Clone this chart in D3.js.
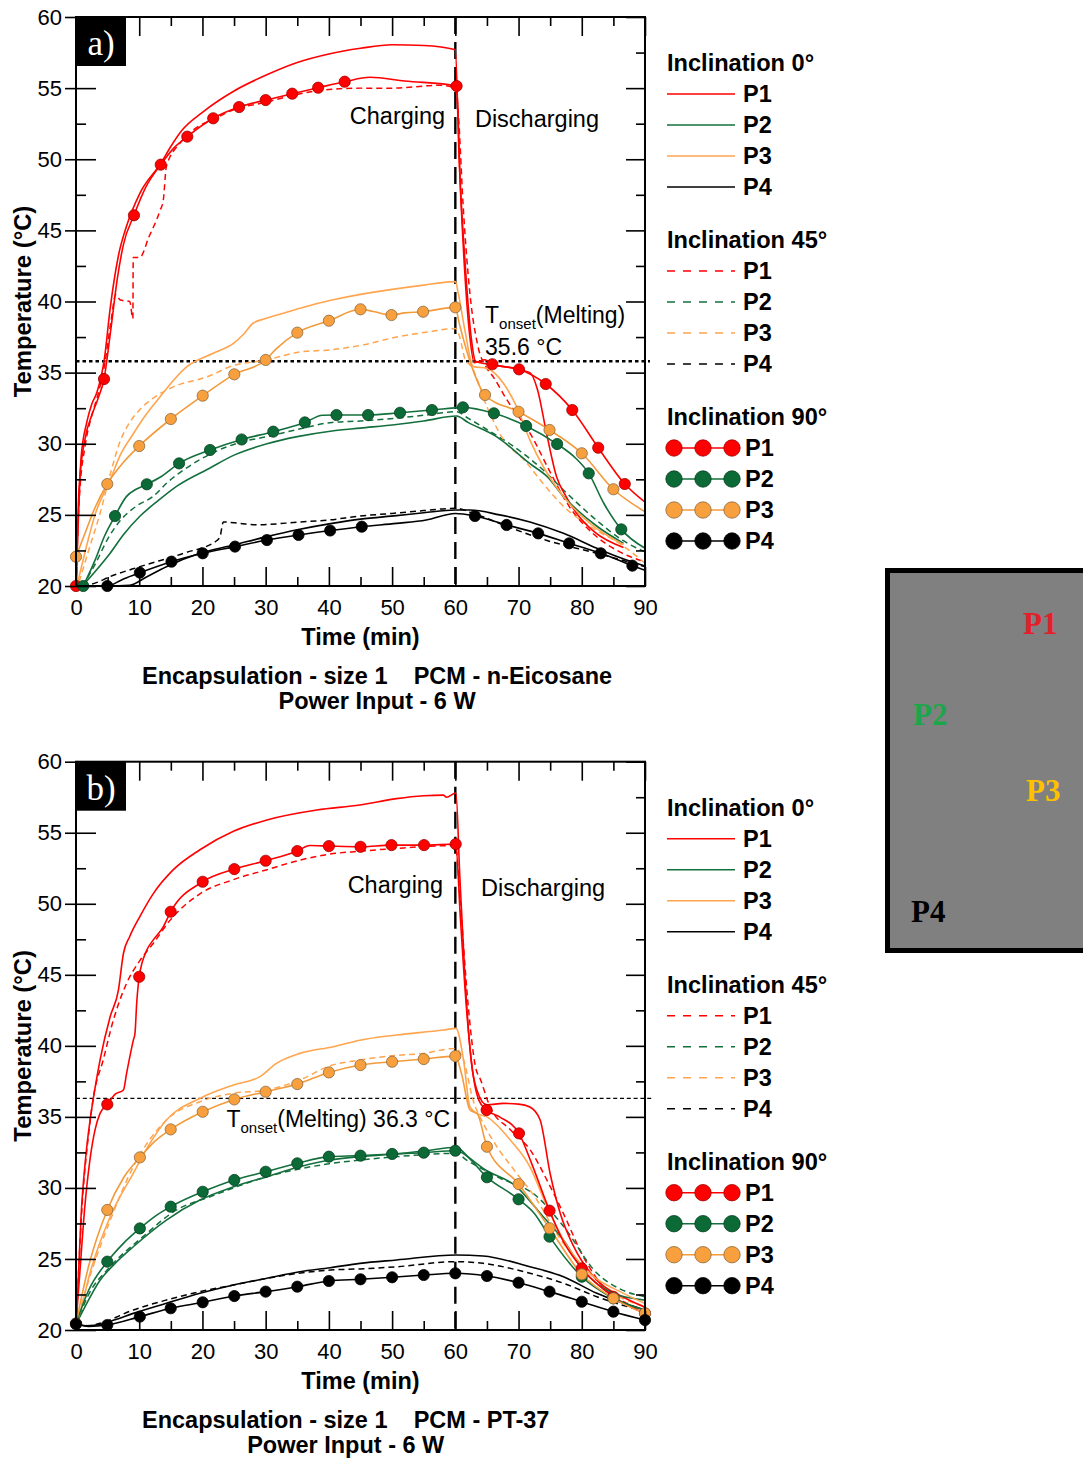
<!DOCTYPE html>
<html>
<head>
<meta charset="utf-8">
<script src="https://cdn.jsdelivr.net/npm/d3@7"></script>
<style>
  body { margin: 0; background: #fff; }
  svg { font-family: "Liberation Sans", Arial, sans-serif; }
</style>
</head>
<body>
<div id="chart"></div>
<script>
// ---------------- axis ticks ----------------
const timeTicks = [0, 10, 20, 30, 40, 50, 60, 70, 80, 90];
const timeMinor = [5, 15, 25, 35, 45, 55, 65, 75, 85];
const tempTicks = [20, 25, 30, 35, 40, 45, 50, 55, 60];
const tempMinor = [22.5, 27.5, 32.5, 37.5, 42.5, 47.5, 52.5, 57.5];
const positions = ["P1", "P2", "P3", "P4"];
const inclinations = ["Inclination 0°", "Inclination 45°", "Inclination 90°"];

// ---------------- panel a) n-Eicosane ----------------
// [time (min), temperature (°C)] ; a third value 1 = measured point drawn as a marker
const a0_P1 = [[0,20],[0.4,25],[0.8,29],[1.7,31.5],[2.5,32.8],[3.3,33.6],[4.5,36],[5.4,39.5],[6.7,43.2],[8,45.3],[10.1,47.6],[13.4,49.7],[15,50.9],[16.7,52],[20,53.3],[25,54.8],[30,55.9],[35,56.8],[40,57.4],[45,57.8],[50,58.05],[55,58.0],[60,57.7],[60.6,50],[61.5,43],[62.5,37.5],[63.2,35.8],[65,35.6],[68,35.4],[71.8,35.0],[73,33.8],[74.4,30.8],[76,27.7],[77.5,26.3],[79.2,25.1],[82,23.8],[86.6,22.7]];
const a45_P1 = [[0,20],[0.5,26],[1.5,30],[2.5,32],[3.5,33.5],[4.5,35.5],[5.5,38.5],[6.3,40.5],[7,40.1],[8.5,40],[9,38.8],[9.05,43.1],[10.1,43.1],[11.5,44.5],[13.3,46.4],[13.8,47.1],[14.3,49.5],[16.4,51.1],[19,52.2],[21.7,52.8],[25,53.5],[30,54.0],[34.3,54.5],[40,54.9],[45,55.0],[50,55.0],[57.6,55.2],[60,55],[60.5,53],[61.2,47],[62.3,40.6],[63.5,37],[65,35.3],[66,34.7],[68,33.2],[72,30.6],[75,28],[78,25.6],[82,23.6],[86,22.4],[90,21.7]];
const a90_P1 = [[0,20,1],[0.5,27],[1.5,30.5],[2.5,32],[3.5,33.2],[4.43,34.55,1],[5.5,38],[6.5,41.5],[7.5,44],[9.17,46.06,1],[11,48],[13.4,49.62,1],[15.5,50.8],[17.6,51.59,1],[21.7,52.88,1],[25.8,53.67,1],[30,54.16,1],[34.2,54.61,1],[38.3,55.03,1],[42.5,55.45,1],[46.5,55.76],[52,55.5],[60.2,55.15,1],[60.8,48],[61.5,42],[62.3,37.5],[63,35.7],[64.7,35.9],[65.85,35.59,1],[70.07,35.23,1],[74.3,34.2,1],[78.5,32.37,1],[82.6,29.72,1],[86.8,27.17,1],[90,25.9]];

const a0_P2 = [[1,20],[3,21],[5.4,22.3],[7.5,23.6],[10.1,24.9],[13,26],[15.9,27],[21.2,28.3],[25,29.2],[30.2,30.0],[35,30.5],[40.5,30.9],[45,31.1],[50.7,31.35],[55,31.6],[60.2,31.95],[62,31.5],[66.5,30.5],[71.8,28.6],[74.5,27.7],[77.1,26.3],[82.4,24.2],[86.6,23.0]];
const a45_P2 = [[1,20],[3,21.5],[5,23.3],[7,24.6],[9.5,25.6],[12.2,26.3],[14.5,27.3],[17,28.15],[22.3,29.5],[26,30.1],[30.2,30.5],[35,31.0],[40.5,31.5],[45,31.6],[50.7,31.8],[55,32.0],[60.2,32.25],[62,31.8],[65,31.0],[68.6,30.0],[73.9,28.15],[77.1,26.75],[82.4,24.6],[86.5,23.2],[90,22.4]];
const a90_P2 = [[1.15,20,1],[3,21.8],[4.5,23.5],[6.17,24.92,1],[8,26.3],[9.5,26.8],[11.2,27.15,1],[13.5,27.7],[16.3,28.62,1],[21.2,29.56,1],[26.2,30.3,1],[31.2,30.85,1],[36.2,31.5,1],[39,32.0],[41.2,32.02,1],[46.2,32.02,1],[51.25,32.18,1],[56.3,32.37,1],[61.2,32.56,1],[66.1,32.14,1],[71.2,31.25,1],[76.1,29.98,1],[79,29.0],[81.1,27.92,1],[83.5,25.8],[86.25,23.98,1],[90,22.65]];

const a0_P3 = [[0.3,20.3],[1.5,22.5],[3,25],[5.4,27.45],[7,29.2],[9.06,30.7],[11,32],[13.3,33.3],[15.5,34.5],[17.5,35.4],[21.7,36.36],[24.9,37.06],[26.5,37.7],[28,38.47],[30,38.8],[32.8,39.17],[36,39.6],[40.5,40.1],[45,40.5],[50,40.85],[55,41.15],[60,41.4],[60.5,40.5],[61.5,38],[62.85,35.42],[65,35.3],[67.6,34.25],[69.7,32.6],[71.8,30.26],[73.9,28.4],[77.1,26.3],[81.3,24.4],[86.6,22.9]];
const a45_P3 = [[0.5,20.3],[2,22.5],[3.8,25.1],[5.5,28],[7,30.2],[8.5,31.5],[10.1,32.4],[12.5,33.3],[15.4,34.0],[20.7,34.7],[24.9,35.5],[30.2,35.9],[35.4,36.45],[40.2,36.6],[45.4,36.95],[50.7,37.5],[56,37.88],[60,38.1],[60.7,37.5],[61.5,36],[62.6,35.4],[65,32.6],[67.6,30.3],[70.8,28.9],[73.9,27.2],[77.1,25.6],[81.3,24.2],[86.6,22.8],[90,21.6]];
const a90_P3 = [[0,22.06,1],[1.5,23.8],[3,25.5],[4.95,27.17,1],[7.5,28.7],[10,29.84,1],[15,31.74,1],[20.04,33.38,1],[25.04,34.88,1],[30,35.89,1],[31.5,36.6],[35,37.81,1],[40,38.65,1],[45,39.45,1],[47,39.3],[49.9,39.05,1],[52,39.2],[54.9,39.28,1],[60,39.59,1],[60.6,38.5],[61.5,37],[62.7,35.3],[64.7,33.43,1],[70,32.25,1],[74.9,30.97,1],[80,29.33,1],[85,26.8,1],[90,25.22]];

const a0_P4 = [[0,20],[5,20],[8.5,20.05],[11,20.6],[14.3,21.36],[19.6,22.3],[24.9,22.88],[30.2,23.47],[35,23.95],[40.5,24.4],[45,24.7],[50.7,24.95],[55,25.15],[60,25.34],[62.3,25.34],[67,25.0],[71.8,24.5],[77.1,23.7],[82.4,22.65],[86,22.0],[90,21.4]];
const a45_P4 = [[1,20],[3,20.2],[5.4,20.66],[10.1,21.36],[17,22.3],[22.3,23.2],[22.8,23.5],[23.3,24.5],[25.9,24.4],[28.6,24.3],[35.4,24.5],[40.2,24.65],[44.9,24.92],[50,25.1],[55,25.3],[60,25.46],[62.9,25.1],[68.1,24.2],[74.5,23.2],[82.4,22.3],[90,21.36]];
const a90_P4 = [[0,20],[4.95,20,1],[7.5,20.5],[10.1,20.94,1],[15.1,21.71,1],[20.04,22.3,1],[25.15,22.77,1],[30.2,23.23,1],[35.2,23.59,1],[40.2,23.9,1],[45.2,24.17,1],[50.7,24.4],[55.4,24.64],[60,25.1],[63.1,24.92,1],[68.1,24.29,1],[73.1,23.7,1],[78,23.0,1],[83,22.3,1],[88,21.43,1],[90,21.1]];

// ---------------- panel b) PT-37 ----------------
const b0_P1 = [[0,20.4],[0.3,23],[0.8,28],[1.5,32],[2.3,35],[3,37],[3.8,39],[5.4,42.05],[6.7,43.9],[7.5,46.5],[8.5,47.7],[10.1,49.1],[12.2,50.7],[15.4,52.4],[19.6,53.8],[24.9,55.1],[30.2,55.9],[38.1,56.6],[44.9,56.95],[50.7,57.4],[55,57.6],[58.1,57.65],[58.6,57.5],[60.1,57.8],[60.7,52],[61.5,45],[62.5,39],[63.4,36.9],[65,35.85],[67.6,35.95],[70,35.9],[71.8,35.7],[73.4,34.8],[75,31.0],[76.6,28.2],[78.7,25.9],[82.4,23.5],[86.6,22.3],[90,21.6]];
const b45_P1 = [[0,20.4],[0.4,24],[1,29],[1.8,33],[2.8,36.5],[4.3,39],[5.9,41.8],[8,44.4],[10.1,46.0],[12.2,47.2],[14.9,48.85],[19.6,50.7],[24.9,51.7],[30.2,52.4],[35.4,53.07],[40.2,53.5],[45,53.7],[50.7,53.9],[60,54.1],[60.8,50],[62,43],[63.2,38.5],[64,37.6],[65.5,35.7],[68.7,34.1],[71.8,32.7],[75,30.1],[77.1,28.2],[80.2,25.2],[83.9,22.8],[87,21.9],[90,21.4]];
const b90_P1 = [[0,20.45,1],[0.6,24],[1.4,28.7],[2.2,31.96],[3,34.07],[3.8,35.25],[4.95,35.88,1],[6.2,36.6],[7.5,36.89],[8,38.06],[9.07,40.4],[9.33,40.88],[9.6,43.0],[10,44.86,1],[11.2,46.74],[12.2,47.44],[13.8,48.38],[14.98,49.44,1],[20.04,51.55,1],[25.04,52.44,1],[30,53.03,1],[35,53.71,1],[37,54.1],[40,54.06,1],[45,54.01,1],[49.9,54.13,1],[55.05,54.13,1],[60.06,54.2,1],[60.8,49],[61.7,43],[62.8,38],[63.7,36.2],[64.95,35.48,1],[67,35],[70.07,33.84,1],[72,31.8],[74.9,28.4,1],[77,26.3],[80,24.34,1],[85,22.34,1],[90,21.17,1]];

const b0_P2 = [[0,20.4],[1.5,21.7],[3.8,23.5],[6,24.6],[9.06,25.86],[14.3,27.74],[19.6,29.15],[24.9,30.08],[30.2,30.79],[35.4,31.49],[40.2,31.96],[44.9,32.2],[50.7,32.4],[55,32.6],[60.2,32.86],[62,32.2],[64.4,31.38],[69.7,30.08],[73.9,27.97],[77.1,26.33],[80.2,24.22],[85,22.58],[90,22.1]];
const b45_P2 = [[0,20.4],[2,22.5],[5.4,24.45],[10.6,26.57],[15.9,28.45],[21.2,29.38],[30.2,30.79],[40,31.7],[44.9,31.96],[50.7,32.2],[60,32.43],[62,31.9],[66.5,30.8],[72.9,29.4],[77.1,27.3],[82.4,24.0],[86,22.9],[90,22.34]];
const b90_P2 = [[0,20.45,1],[2,22.8],[4.95,24.81,1],[7.5,26.1],[10.1,27.15,1],[12.5,28],[14.98,28.68,1],[20.04,29.73,1],[25.04,30.56,1],[30,31.14,1],[35,31.73,1],[40,32.2,1],[45,32.27,1],[50,32.39,1],[55,32.48,1],[60,32.62,1],[61,32.5],[65,30.75,1],[70,29.2,1],[72.5,28.2],[74.9,26.57,1],[80,23.75,1],[85,22.23,1],[90,21.4]];

const b0_P3 = [[0,20.4],[0.6,21.2],[2.2,24],[5.4,27.97],[9.06,31.03],[11.5,33],[14.3,34.78],[19.6,36.3],[24.9,37.24],[29.1,37.83],[31.7,38.77],[35.4,39.47],[40.7,39.94],[44.9,40.4],[50.7,40.76],[58.1,41.11],[60.1,41.23],[61.3,39],[62.3,35.72],[63.4,35.25],[65,35.0],[68.7,33.37],[71.8,31.49],[74.5,28.68],[77.1,26.33],[81.3,23.99],[86.6,22.58],[90,21.87]];
const b45_P3 = [[0,20.4],[2,23.5],[5.4,27.7],[9.06,31.49],[14.3,34.78],[19.6,36.07],[24.9,36.66],[30.2,36.89],[35.4,37.6],[40.2,38.6],[44.9,39.0],[50,39.3],[54.9,39.47],[60,39.82],[61.3,39],[62.8,36.19],[64.4,34.55],[66,33.3],[69.7,31.03],[72.9,29.15],[76,26.8],[80.2,24.45],[85,22.58],[90,21.64]];
const b90_P3 = [[0,20.45,1],[2,24.5],[4.95,28.45,1],[7.5,30.7],[10.1,32.15,1],[12.5,33.3],[14.98,34.12,1],[20.04,35.36,1],[25.04,36.23,1],[30,36.77,1],[35,37.31,1],[40,38.13,1],[45,38.65,1],[50,38.88,1],[55,39.07,1],[60,39.28,1],[61,38],[62.3,35.5],[63.5,35.2],[65,32.9,1],[70,30.27,1],[74.9,27.16,1],[80,23.92,1],[85,22.23,1],[90,21.17,1]];

const b0_P4 = [[0,20.47],[1.5,20.3],[3.3,20.35],[6,20.7],[9.06,21.17],[14.3,21.88],[19.6,22.58],[24.9,23.17],[30.2,23.64],[35.4,24.1],[40.2,24.38],[44.9,24.69],[50.7,24.93],[60.1,25.28],[64.4,25.21],[71.8,24.45],[77.1,23.75],[82.4,22.58],[90,21.4]];
const b45_P4 = [[0,20.47],[2,20.3],[3.8,20.47],[9.06,21.41],[14.3,22.11],[19.6,22.7],[24.9,23.17],[30.2,23.64],[40.2,24.22],[44.9,24.3],[50.7,24.45],[60,24.81],[64.4,24.69],[71.8,23.99],[77.1,23.29],[82.4,22.34],[90,21.29]];
const b90_P4 = [[0,20.42,1],[2,20.25],[4.95,20.35,1],[10.1,20.94,1],[14.98,21.53,1],[20.04,21.95,1],[25.04,22.39,1],[30,22.7,1],[35,23.05,1],[40,23.45,1],[45,23.57,1],[50,23.71,1],[55,23.87,1],[60,23.99,1],[65,23.8,1],[70,23.33,1],[74.9,22.7,1],[80,21.99,1],[85,21.29,1],[90,20.7,1]];

// onset temperatures and captions
const onsetA = 35.8, onsetB = 36.3;
const captionA = ["Encapsulation - size 1    PCM - n-Eicosane", "Power Input - 6 W"];
const captionB = ["Encapsulation - size 1    PCM - PT-37", "Power Input - 6 W"];

// ---------------- layout / style ----------------
const WIDTH = 1083, HEIGHT = 1459;
const LEFT = 76, RIGHT = 645;
const LINE_COL = { P1: "#ff0000", P2: "#13703d", P3: "#ffa54f", P4: "#000000" };
const MARK_FILL = { P1: "#ff0000", P2: "#0b6a36", P3: "#f8a03e", P4: "#000000" };
const MARK_STROKE = { P1: "#a00000", P2: "#06401f", P3: "#8a6a40", P4: "#000000" };
const BOLD = "bold";

const svg = d3.select("#chart").append("svg")
  .attr("width", WIDTH).attr("height", HEIGHT);

const x = d3.scaleLinear().domain([0, 90]).range([LEFT, RIGHT]);

const panels = [
  { tag: "a)", top: 17, bottom: 586, s0: [a0_P1, a0_P2, a0_P3, a0_P4], s45: [a45_P1, a45_P2, a45_P3, a45_P4],
    s90: [a90_P1, a90_P2, a90_P3, a90_P4], onset: onsetA, caption: captionA, onsetStyle: "dot" },
  { tag: "b)", top: 761.7, bottom: 1330, s0: [b0_P1, b0_P2, b0_P3, b0_P4], s45: [b45_P1, b45_P2, b45_P3, b45_P4],
    s90: [b90_P1, b90_P2, b90_P3, b90_P4], onset: onsetB, caption: captionB, onsetStyle: "dash" }
];

panels.forEach(drawPanel);

function drawPanel(p, idx) {
  const g = svg.append("g");
  const y = d3.scaleLinear().domain([20, 60]).range([p.bottom, p.top]);
  const line = d3.line().x(d => x(d[0])).y(d => y(d[1])).curve(d3.curveMonotoneX);

  // onset line
  g.append("line")
    .attr("x1", LEFT).attr("x2", p.onsetStyle === "dot" ? 650 : 652)
    .attr("y1", y(p.onset)).attr("y2", y(p.onset))
    .attr("stroke", "#000")
    .attr("stroke-width", p.onsetStyle === "dot" ? 2.6 : 1.3)
    .attr("stroke-dasharray", p.onsetStyle === "dot" ? "3.5,3" : "4,2.8");

  // charge / discharge separator at 60 min
  g.append("line")
    .attr("x1", x(60)).attr("x2", x(60))
    .attr("y1", y(60)).attr("y2", y(20))
    .attr("stroke", "#000").attr("stroke-width", 2.4)
    .attr("stroke-dasharray", "17,8");

  // series lines
  p.s45.forEach((s, i) => {
    g.append("path").attr("d", line(s)).attr("fill", "none")
      .attr("stroke", LINE_COL[positions[i]]).attr("stroke-width", 1.5)
      .attr("stroke-dasharray", "6,4");
  });
  p.s0.forEach((s, i) => {
    g.append("path").attr("d", line(s)).attr("fill", "none")
      .attr("stroke", LINE_COL[positions[i]]).attr("stroke-width", 1.6);
  });
  p.s90.forEach((s, i) => {
    const col = positions[i] === "P3" ? "#f39a3a" : LINE_COL[positions[i]];
    g.append("path").attr("d", line(s)).attr("fill", "none")
      .attr("stroke", col).attr("stroke-width", 1.6);
  });
  // markers on top
  p.s90.forEach((s, i) => {
    g.append("g").selectAll("circle")
      .data(s.filter(d => d[2] === 1))
      .join("circle")
      .attr("cx", d => x(d[0])).attr("cy", d => y(d[1]))
      .attr("r", 5.6)
      .attr("fill", MARK_FILL[positions[i]])
      .attr("stroke", MARK_STROKE[positions[i]])
      .attr("stroke-width", 0.8);
  });

  // ---- axes ----
  const fontAxis = g => g.attr("font-size", 22).attr("font-family", "Liberation Sans, Arial, sans-serif")
    .call(g => g.select(".domain").remove())
    .call(g => g.selectAll("line").attr("stroke-width", 1.6));

  g.append("g").attr("transform", `translate(0,${p.bottom})`)
    .call(d3.axisBottom(x).tickValues(timeTicks).tickSize(-19).tickPadding(13)).call(fontAxis);
  g.append("g").attr("transform", `translate(0,${p.bottom})`)
    .call(d3.axisBottom(x).tickValues(timeMinor).tickSize(-9).tickFormat("")).call(fontAxis);
  g.append("g").attr("transform", `translate(0,${p.top})`)
    .call(d3.axisTop(x).tickValues(timeTicks).tickSize(-19).tickFormat("")).call(fontAxis);
  g.append("g").attr("transform", `translate(0,${p.top})`)
    .call(d3.axisTop(x).tickValues(timeMinor).tickSize(-9).tickFormat("")).call(fontAxis);

  g.append("g").attr("transform", `translate(${LEFT},0)`)
    .call(d3.axisLeft(y).tickValues(tempTicks).tickSize(11).tickPadding(3)).call(fontAxis);
  g.append("g").attr("transform", `translate(${LEFT},0)`)
    .call(d3.axisLeft(y).tickValues(tempTicks).tickSize(-20).tickFormat("")).call(fontAxis);
  g.append("g").attr("transform", `translate(${LEFT},0)`)
    .call(d3.axisLeft(y).tickValues(tempMinor).tickSize(-10).tickFormat("")).call(fontAxis);
  g.append("g").attr("transform", `translate(${RIGHT},0)`)
    .call(d3.axisRight(y).tickValues(tempTicks).tickSize(-19).tickFormat("")).call(fontAxis);
  g.append("g").attr("transform", `translate(${RIGHT},0)`)
    .call(d3.axisRight(y).tickValues(tempMinor).tickSize(-9).tickFormat("")).call(fontAxis);

  g.append("rect")
    .attr("x", LEFT).attr("y", p.top)
    .attr("width", RIGHT - LEFT).attr("height", p.bottom - p.top)
    .attr("fill", "none").attr("stroke", "#000").attr("stroke-width", 2);

  // panel tag
  g.append("rect").attr("x", LEFT).attr("y", p.top).attr("width", 50).attr("height", 49).attr("fill", "#000");
  g.append("text").attr("x", LEFT + 25).attr("y", p.top + 38)
    .attr("text-anchor", "middle").attr("fill", "#fff")
    .attr("font-family", "Liberation Serif, Times New Roman, serif").attr("font-size", 35)
    .text(p.tag);

  // annotations
  const chY = idx === 0 ? [52.48, 52.27] : [50.75, 50.54];
  const chX = idx === 0 ? [58.4, 63.1] : [58.05, 64.06];
  g.append("text").attr("x", x(chX[0])).attr("y", y(chY[0])).attr("text-anchor", "end")
    .attr("font-size", 23.5).text("Charging");
  g.append("text").attr("x", x(chX[1])).attr("y", y(chY[1]))
    .attr("font-size", 23.5).text("Discharging");

  const onsetLabel = (t, T) => {
    const tx = g.append("text").attr("x", x(t)).attr("y", y(T)).attr("font-size", 23).style("white-space", "pre");
    tx.append("tspan").text("T");
    tx.append("tspan").attr("font-size", 15).attr("dy", 6).text("onset");
    tx.append("tspan").attr("dy", -6).text("(Melting)");
    return tx;
  };
  if (idx === 0) {
    onsetLabel(64.7, 38.49);
    g.append("text").attr("x", x(64.7)).attr("y", y(36.24)).attr("font-size", 23).text("35.6 °C");
  } else {
    onsetLabel(23.8, 34.29).append("tspan").text(" 36.3 °C");
  }

  // axis titles
  g.append("text")
    .attr("transform", `translate(23,${(p.top + p.bottom) / 2}) rotate(-90)`)
    .attr("text-anchor", "middle").attr("dy", "0.35em")
    .attr("font-weight", BOLD).attr("font-size", 23.8)
    .text("Temperature (°C)");
  g.append("text").attr("x", (LEFT + RIGHT) / 2).attr("y", p.bottom + 59)
    .attr("text-anchor", "middle").attr("font-weight", BOLD).attr("font-size", 23.5)
    .text("Time (min)");

  const cap1 = g.append("text").attr("x", 142).attr("y", p.bottom + 98)
    .attr("font-weight", BOLD).attr("font-size", 23.5).style("white-space", "pre")
    .text(p.caption[0]);
  const w1 = cap1.node().getComputedTextLength();
  g.append("text").attr("x", 142 + w1 / 2).attr("y", p.bottom + 123)
    .attr("text-anchor", "middle").attr("font-weight", BOLD).attr("font-size", 23.5)
    .text(p.caption[1]);

  // ---- legend ----
  const lg = g.append("g").attr("transform", `translate(0,${p.top})`);
  inclinations.forEach((title, k) => {
    const base = 177 * k;
    lg.append("text").attr("x", 667).attr("y", base + 54)
      .attr("font-weight", BOLD).attr("font-size", 23.6).text(title);
    positions.forEach((pos, i) => {
      const ly = base + 77 + 31 * i;
      if (k < 2) {
        lg.append("line").attr("x1", 667).attr("x2", 735).attr("y1", ly).attr("y2", ly)
          .attr("stroke", LINE_COL[pos]).attr("stroke-width", 1.6)
          .attr("stroke-dasharray", k === 1 ? "8,8" : null);
      } else {
        lg.append("line").attr("x1", 674).attr("x2", 732).attr("y1", ly).attr("y2", ly)
          .attr("stroke", pos === "P3" ? "#f39a3a" : LINE_COL[pos]).attr("stroke-width", 1.6);
        lg.selectAll(null).data([674, 703, 732]).join("circle")
          .attr("cx", d => d).attr("cy", ly).attr("r", 8.2)
          .attr("fill", MARK_FILL[pos]).attr("stroke", MARK_STROKE[pos]).attr("stroke-width", 0.8);
      }
      lg.append("text").attr("x", k < 2 ? 743 : 745).attr("y", ly).attr("dy", "0.36em")
        .attr("font-weight", BOLD).attr("font-size", 23.5).text(pos);
    });
  });
}

// ---- sensor position sketch (right) ----
const sketch = svg.append("g");
sketch.append("rect").attr("x", 887.5).attr("y", 570.5).attr("width", 260).attr("height", 380)
  .attr("fill", "#808080").attr("stroke", "#000").attr("stroke-width", 5);
const sketchLabels = [
  { t: "P1", x: 1023, y: 634, c: "#e3202a" },
  { t: "P2", x: 913, y: 725, c: "#1ca64a" },
  { t: "P3", x: 1026, y: 801, c: "#ffc000" },
  { t: "P4", x: 911, y: 922, c: "#000000" }
];
sketch.selectAll("text").data(sketchLabels).join("text")
  .attr("x", d => d.x).attr("y", d => d.y)
  .attr("fill", d => d.c)
  .attr("font-family", "Liberation Serif, Times New Roman, serif")
  .attr("font-weight", "bold").attr("font-size", 31)
  .text(d => d.t);
</script>
</body>
</html>
